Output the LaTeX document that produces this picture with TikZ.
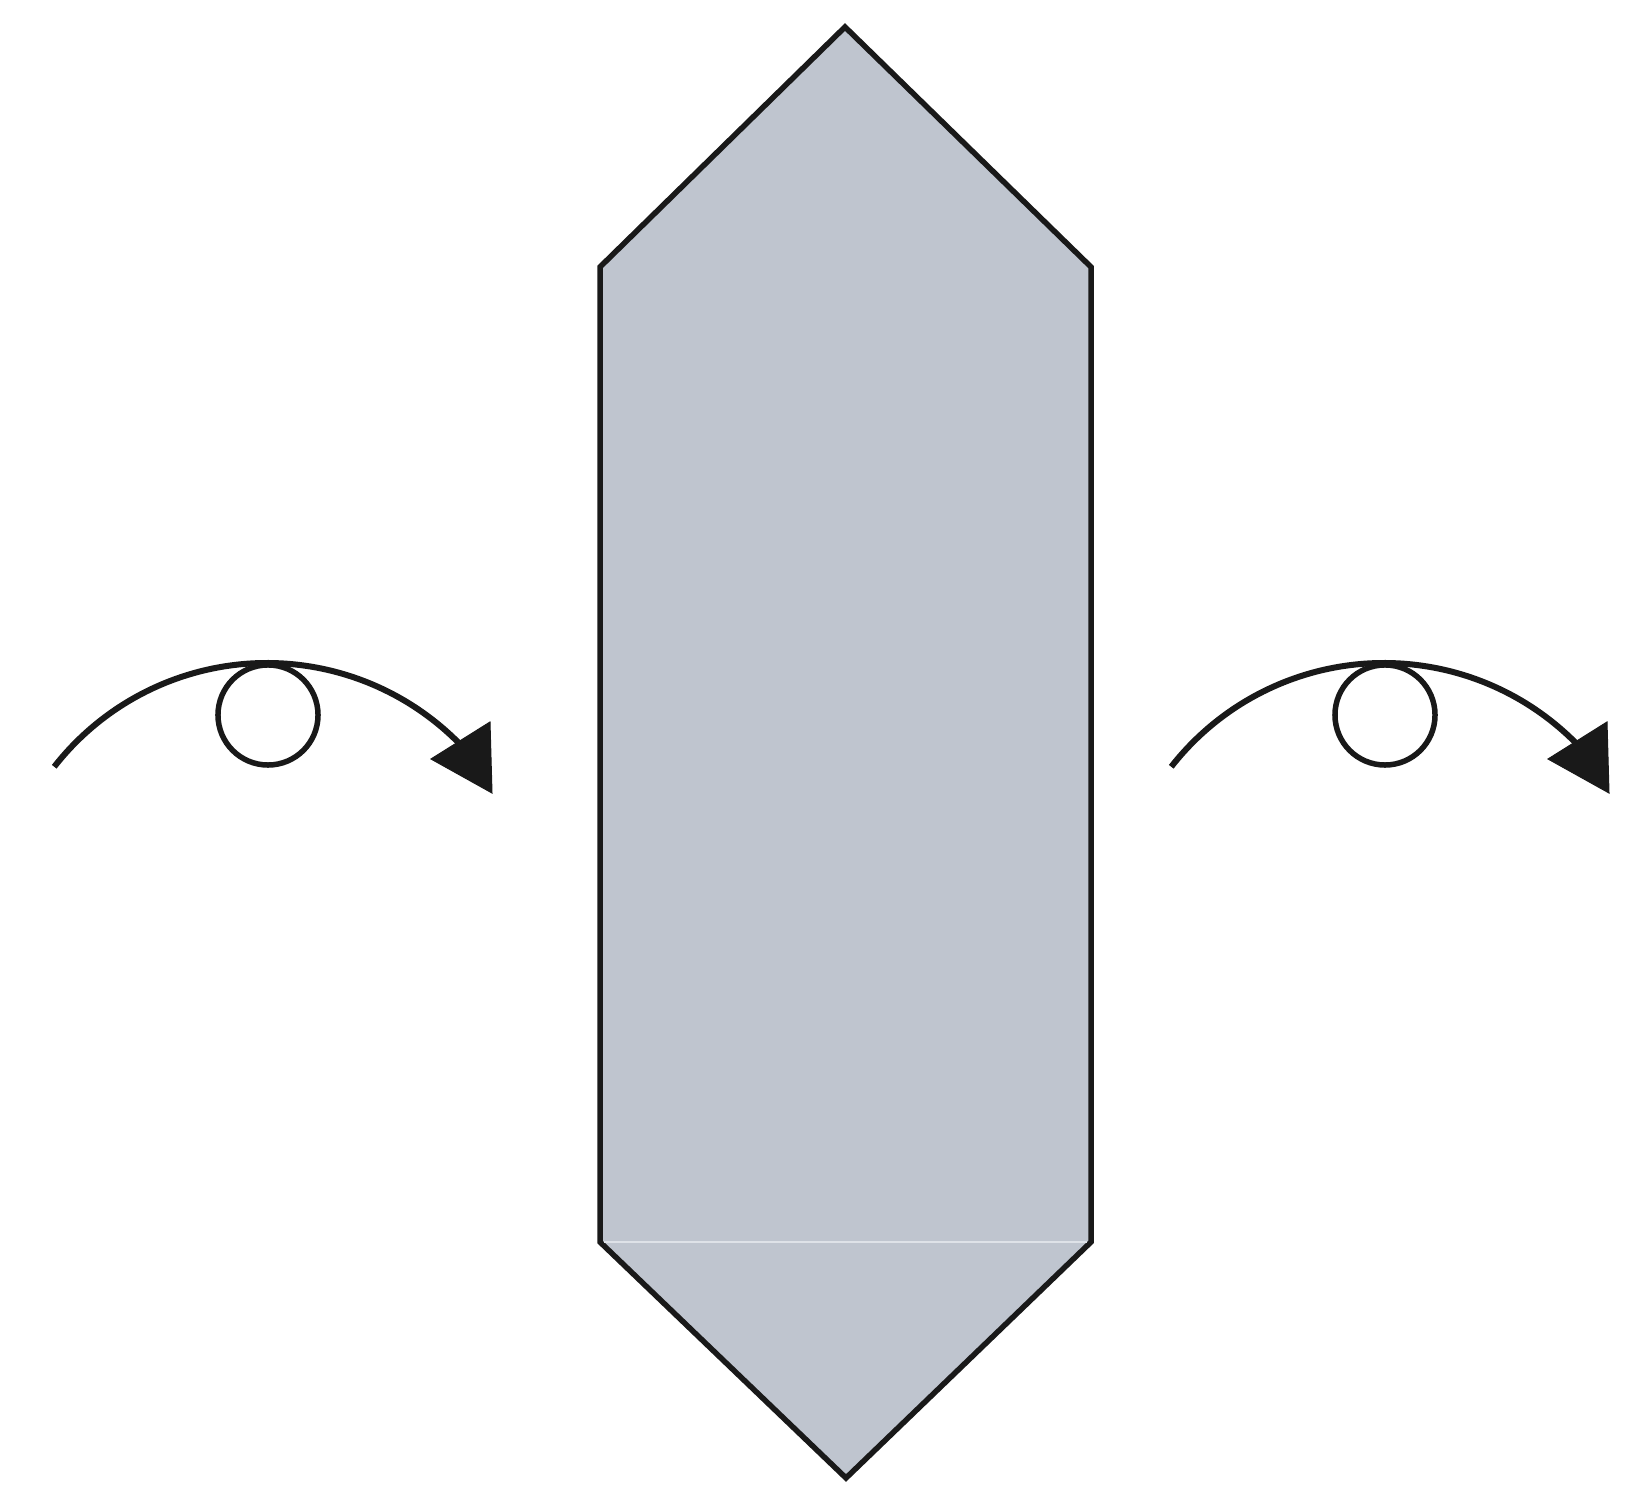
\documentclass[tikz,border=0pt]{standalone}
\definecolor{paper}{RGB}{191,197,207}
\definecolor{foldline}{RGB}{222,226,232}
\tikzset{
  outline/.style={draw=black!90, line width=0.055cm, line join=miter, fill=paper},
  turnline/.style={draw=black!90, line width=0.06cm},
  turnhead/.style={fill=black!90, draw=black!90, line width=0.01cm, line join=miter},
  turnmark/.style={draw=black!90, line width=0.055cm, fill=white, circle, minimum size=1.0cm, inner sep=0pt},
}
\begin{document}
\begin{tikzpicture}[x=0.01cm,y=0.01cm]
\useasboundingbox[fill=white] (0,0) rectangle (1645,1490);
% paper shape
\coordinate (T) at (845,1463);
\coordinate (TL) at (600,1223);
\coordinate (BL) at (600,248);
\coordinate (B) at (846,12);
\coordinate (BR) at (1091,248);
\coordinate (TR) at (1091,1223);
\path[outline] (T) -- (TL) -- (BL) -- (B) -- (BR) -- (TR) -- cycle;
\draw[foldline, line width=0.02cm] ([xshift=0.04cm]BL) -- ([xshift=-0.04cm]BR);
% left turn-over symbol
\coordinate (LS) at ({267+270*cos(142)},{557+270*sin(142)});
\draw[turnline] (LS) arc[start angle=142, end angle=44, radius=270];
\coordinate (LT) at (492,697);
\coordinate (LB1) at (490,768);
\coordinate (LB2) at (431,731);
\path[turnhead] (LT) -- (LB1) -- (LB2) -- cycle;
\node[turnmark] (LC) at (268,775) {};
% right turn-over symbol
\coordinate (RS) at ({1384+270*cos(142)},{557+270*sin(142)});
\draw[turnline] (RS) arc[start angle=142, end angle=44, radius=270];
\coordinate (RT) at (1609,697);
\coordinate (RB1) at (1607,768);
\coordinate (RB2) at (1548,731);
\path[turnhead] (RT) -- (RB1) -- (RB2) -- cycle;
\node[turnmark] (RC) at (1385,775) {};
\end{tikzpicture}
\end{document}
